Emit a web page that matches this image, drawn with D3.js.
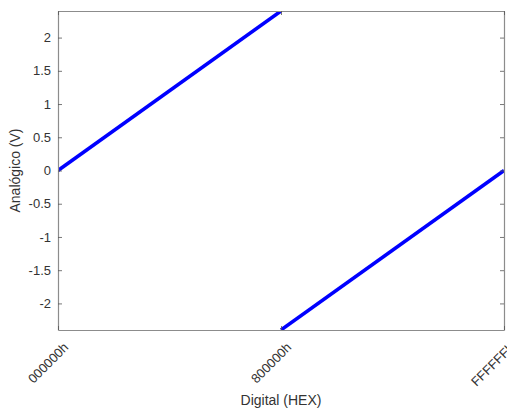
<!DOCTYPE html>
<html>
<head>
<meta charset="utf-8">
<script src="https://cdn.jsdelivr.net/npm/d3@7"></script>
<style>
  body { margin: 0; background: #fff; }
  svg { display: block; font-family: "Liberation Sans", Arial, sans-serif; }
</style>
</head>
<body>
<svg id="chart" width="507" height="409"></svg>
<script>
// 24-bit DAC code to analog output (two's complement transfer function)
const xTickValues = [0x000000, 0x800000, 0xFFFFFF];
const xTickLabels = ["000000h", "800000h", "FFFFFFh"];
const yTickValues = [-2, -1.5, -1, -0.5, 0, 0.5, 1, 1.5, 2];
const yTickLabels = ["-2", "-1.5", "-1", "-0.5", "0", "0.5", "1", "1.5", "2"];
const positiveCodes = [0x000000, 0x7FFFFF];
const positiveVolts = [0, 2.4];
const negativeCodes = [0x800000, 0xFFFFFF];
const negativeVolts = [-2.4, 0];

const svg = d3.select("#chart");
const margin = { left: 58, top: 11, right: 3, bottom: 79 };
const W = 507, H = 409;
const x = d3.scaleLinear().domain([0, 0xFFFFFF]).range([margin.left, W - margin.right]);
const y = d3.scaleLinear().domain([-2.4, 2.4]).range([H - margin.bottom, margin.top]);
const textColor = "#333333";
const axisColor = "#8c8c8c";

// plot area clip
svg.append("clipPath").attr("id", "clip").append("rect")
  .attr("x", x.range()[0]).attr("y", y.range()[1])
  .attr("width", x.range()[1] - x.range()[0]).attr("height", y.range()[0] - y.range()[1]);

// lines
const line = d3.line().x(d => x(d[0])).y(d => y(d[1]));
const g = svg.append("g").attr("clip-path", "url(#clip)");
[[positiveCodes, positiveVolts], [negativeCodes, negativeVolts]].forEach(([cs, vs]) => {
  g.append("path")
    .datum(cs.map((c, i) => [c, vs[i]]))
    .attr("d", line)
    .attr("fill", "none")
    .attr("stroke", "#0000ff")
    .attr("stroke-width", 3.5);
});

// y axes (left with labels, right ticks only)
const yLeft = d3.axisLeft(y).tickValues(yTickValues)
  .tickFormat((d, i) => yTickLabels[i]).tickSizeInner(-4).tickSizeOuter(0).tickPadding(7);
const gyl = svg.append("g").attr("transform", `translate(${margin.left},0)`).call(yLeft);
const yRight = d3.axisRight(y).tickValues(yTickValues).tickFormat("").tickSizeInner(-4).tickSizeOuter(0);
const gyr = svg.append("g").attr("transform", `translate(${W - margin.right},0)`).call(yRight);

// x axes
const xBottom = d3.axisBottom(x).tickValues(xTickValues).tickFormat("").tickSizeInner(-4).tickSizeOuter(0);
const gxb = svg.append("g").attr("transform", `translate(0,${H - margin.bottom})`).call(xBottom);
const xTop = d3.axisTop(x).tickValues(xTickValues).tickFormat("").tickSizeInner(-4).tickSizeOuter(0);
const gxt = svg.append("g").attr("transform", `translate(0,${margin.top})`).call(xTop);

[gyl, gyr, gxb, gxt].forEach(a => {
  a.select(".domain").attr("stroke", axisColor).attr("stroke-width", 1.2);
  a.selectAll(".tick line").attr("stroke", "#555").attr("stroke-width", 0.8);
});
gyl.selectAll(".tick text").attr("fill", textColor).attr("font-size", 13);

// rotated x tick labels
svg.append("g").selectAll("text")
  .data(xTickValues)
  .join("text")
  .attr("transform", d => `translate(${x(d) + 8},${H - margin.bottom + 15}) rotate(-45)`)
  .attr("text-anchor", "end")
  .attr("dy", "0.35em")
  .attr("fill", textColor)
  .attr("font-size", 13)
  .text((d, i) => xTickLabels[i]);

// axis titles
svg.append("text")
  .attr("x", x(0x800000)).attr("y", 405)
  .attr("text-anchor", "middle").attr("fill", textColor).attr("font-size", 14)
  .text("Digital (HEX)");
svg.append("text")
  .attr("transform", `translate(20,${y(0)}) rotate(-90)`)
  .attr("text-anchor", "middle").attr("fill", textColor).attr("font-size", 14)
  .text("Analógico (V)");
</script>
</body>
</html>
